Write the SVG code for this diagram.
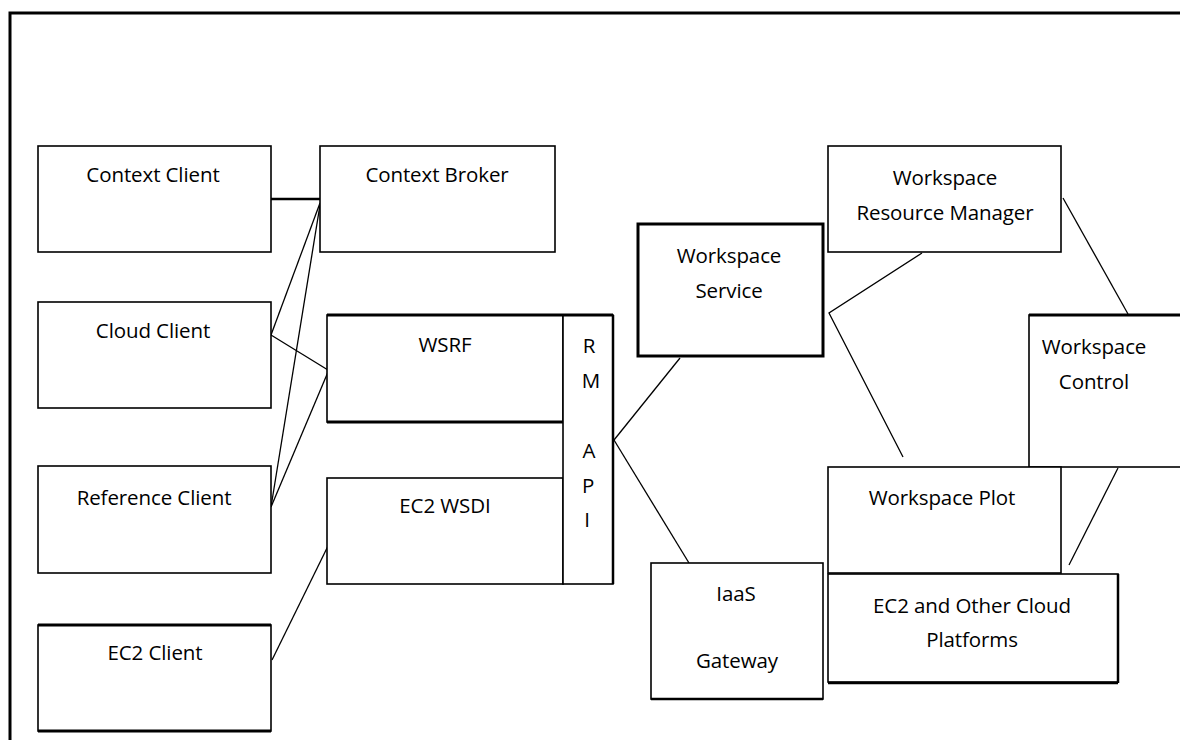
<svg xmlns="http://www.w3.org/2000/svg" width="1180" height="740" viewBox="0 0 1180 740">
<style>
.box{fill:#fff;stroke:#000;stroke-width:1.6}
.thick{fill:#fff;stroke:#000;stroke-width:3}
.lbl{font-family:"Open Sans","Liberation Sans",sans-serif;font-size:20.5px;fill:#000;text-anchor:middle;letter-spacing:-0.1px}
.con{fill:none;stroke:#000;stroke-width:1.3}
</style>
<rect width="1180" height="740" fill="#fff"/>
<path d="M10,742 L10,13 L1182,13" fill="none" stroke="#000" stroke-width="3"/>
<g id="connectors">
<line x1="271" y1="199" x2="320" y2="199" stroke="#000" stroke-width="2.5"/>
<line class="con" x1="320" y1="203" x2="271" y2="335"/>
<line class="con" x1="320" y1="205" x2="271" y2="507"/>
<line class="con" x1="271" y1="335" x2="328" y2="370"/>
<line class="con" x1="271" y1="507" x2="328" y2="372"/>
<line class="con" x1="272" y1="660" x2="328" y2="546"/>
<line class="con" x1="614" y1="440" x2="680" y2="358"/>
<line class="con" x1="614" y1="440" x2="689" y2="563"/>
<polyline class="con" points="922,253 829,313 903,457"/>
<line class="con" x1="1063" y1="198" x2="1128" y2="314"/>
<line class="con" x1="1118" y1="468" x2="1069" y2="565"/>
</g>
<g id="context-client"><rect class="box" x="38" y="146" width="233" height="106"/><text class="lbl" x="153" y="182">Context Client</text></g>
<g id="context-broker"><rect class="box" x="320" y="146" width="235" height="106"/><text class="lbl" x="437" y="182">Context Broker</text></g>
<g id="cloud-client"><rect class="box" x="38" y="302" width="233" height="106"/><text class="lbl" x="153" y="338">Cloud Client</text></g>
<g id="reference-client"><rect class="box" x="38" y="466" width="233" height="107"/><text class="lbl" x="154" y="505">Reference Client</text></g>
<g id="ec2-client"><rect class="box" x="38" y="625" width="233" height="106"/><line x1="38" y1="625" x2="271" y2="625" stroke="#000" stroke-width="3"/><line x1="38" y1="731" x2="271" y2="731" stroke="#000" stroke-width="3"/><text class="lbl" x="155" y="660">EC2 Client</text></g>
<g id="wsrf"><rect class="box" x="327" y="315" width="236" height="107"/><line x1="327" y1="315" x2="563" y2="315" stroke="#000" stroke-width="3"/><line x1="327" y1="422" x2="563" y2="422" stroke="#000" stroke-width="3"/><text class="lbl" x="445" y="352">WSRF</text></g>
<g id="ec2-wsdi"><rect class="box" x="327" y="478" width="236" height="106"/><text class="lbl" x="445" y="513">EC2 WSDI</text></g>
<g id="rm-api"><rect class="box" x="563" y="315" width="50" height="269"/><line x1="563" y1="315" x2="613" y2="315" stroke="#000" stroke-width="3"/><line x1="613" y1="315" x2="613" y2="584" stroke="#000" stroke-width="2.5"/>
<text class="lbl" x="589" y="353">R</text><text class="lbl" x="591" y="388">M</text><text class="lbl" x="589" y="458">A</text><text class="lbl" x="588" y="493">P</text><text class="lbl" x="587" y="527">I</text></g>
<g id="workspace-service"><rect class="thick" x="638" y="224" width="185" height="132"/><text class="lbl" x="729" y="263">Workspace</text><text class="lbl" x="729" y="298">Service</text></g>
<g id="workspace-resource-manager"><rect class="box" x="828" y="146" width="233" height="106"/><text class="lbl" x="945" y="185">Workspace</text><text class="lbl" x="945" y="220">Resource Manager</text></g>
<g id="workspace-control"><rect class="box" x="1029" y="315" width="160" height="152"/><line x1="1029" y1="315" x2="1180" y2="315" stroke="#000" stroke-width="3"/><text class="lbl" x="1094" y="354">Workspace</text><text class="lbl" x="1094" y="389">Control</text></g>
<g id="workspace-plot"><rect class="box" x="828" y="467" width="233" height="106"/><text class="lbl" x="942" y="505">Workspace Plot</text></g>
<g id="ec2-other-cloud"><rect class="box" x="828" y="574" width="290" height="108"/><line x1="1118" y1="574" x2="1118" y2="683" stroke="#000" stroke-width="2.5"/><line x1="828" y1="683" x2="1118" y2="683" stroke="#000" stroke-width="2.5"/><text class="lbl" x="972" y="613">EC2 and Other Cloud</text><text class="lbl" x="972" y="647">Platforms</text></g>
<g id="iaas-gateway"><rect class="box" x="651" y="563" width="172" height="136"/><line x1="651" y1="699" x2="823" y2="699" stroke="#000" stroke-width="2.5"/><text class="lbl" x="736" y="601">IaaS</text><text class="lbl" x="737" y="668">Gateway</text></g>
</svg>
